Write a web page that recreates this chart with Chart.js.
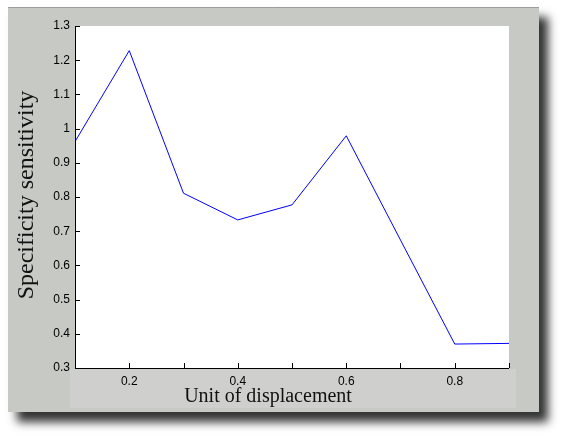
<!DOCTYPE html>
<html>
<head>
<meta charset="utf-8">
<script src="https://cdn.jsdelivr.net/npm/chart.js@4"></script>
<style>
  html, body { margin: 0; padding: 0; background: #ffffff; }
  #wrap { width: 562px; height: 435px; position: relative; }
</style>
</head>
<body>
<div id="wrap"><canvas id="chart"></canvas></div>
<script>
// values
const displacement = [0.1, 0.2, 0.3, 0.4, 0.5, 0.6, 0.7, 0.8, 0.9];
const sensitivity = [0.962, 1.228, 0.811, 0.733, 0.777, 0.979, 0.674, 0.370, 0.372];
const xLabelTicks = [0.2, 0.4, 0.6, 0.8];
const xTitle = 'Unit of displacement';
const yTitle = 'Specificity sensitivity';

// panel, shadow, white plot area, inside ticks, titles
const matlabLook = {
    id: 'matlabLook',
    beforeDraw(chart) {
        let ctx = chart.ctx;
        let area = chart.chartArea;
        ctx.save();
        ctx.fillStyle = '#ffffff';
        ctx.fillRect(0, 0, chart.width, chart.height);

        // gray panel with drop shadow
        ctx.shadowColor = 'rgba(0,0,0,0.8)';
        ctx.shadowBlur = 9;
        ctx.shadowOffsetX = 9;
        ctx.shadowOffsetY = 10;
        ctx.fillStyle = '#c6c9c4';
        ctx.fillRect(8, 7, 531, 405);
        ctx.shadowColor = 'transparent';
        ctx.strokeStyle = '#9a9d98';
        ctx.lineWidth = 1;
        ctx.beginPath();
        ctx.moveTo(8, 7.5);
        ctx.lineTo(539, 7.5);
        ctx.stroke();

        // lighter strip behind the x labels
        ctx.fillStyle = '#cfd0ce';
        ctx.fillRect(70, 369, 446, 39);

        // plot area
        ctx.fillStyle = '#ffffff';
        ctx.fillRect(area.left, area.top, area.right - area.left, area.bottom - area.top);
        ctx.restore();
    },
    afterDatasetsDraw(chart) {
        let ctx = chart.ctx;
        let area = chart.chartArea;
        let xs = chart.scales.x;
        let ys = chart.scales.y;
        ctx.save();
        ctx.strokeStyle = '#000000';
        ctx.lineWidth = 1;
        ctx.beginPath();
        // axes
        ctx.moveTo(area.left + 0.5, area.top);
        ctx.lineTo(area.left + 0.5, area.bottom + 0.5);
        ctx.lineTo(area.right, area.bottom + 0.5);
        // inside ticks
        displacement.forEach(v => {
            let px = Math.round(xs.getPixelForValue(v)) + 0.5;
            ctx.moveTo(px, area.bottom);
            ctx.lineTo(px, area.bottom - 5);
        });
        ys.ticks.forEach(t => {
            let py = Math.round(ys.getPixelForValue(t.value)) + 0.5;
            ctx.moveTo(area.left, py);
            ctx.lineTo(area.left + 5, py);
        });
        ctx.stroke();

        // axis titles
        ctx.fillStyle = '#111111';
        ctx.font = '20px "Liberation Serif", "DejaVu Serif", serif';
        ctx.textAlign = 'center';
        ctx.textBaseline = 'middle';
        ctx.fillText(xTitle, 268, 397);
        ctx.translate(27, 195);
        ctx.rotate(-Math.PI / 2);
        ctx.font = '24px "Liberation Serif", "DejaVu Serif", serif';
        ctx.fillText(yTitle, 0, 0);
        ctx.restore();
    }
};

let points = displacement.map((x, i) => ({ x: x, y: sensitivity[i] }));

new Chart(document.getElementById('chart'), {
    type: 'line',
    data: {
        datasets: [{
            label: yTitle,
            data: points,
            borderColor: '#0000ff',
            borderWidth: 1,
            pointRadius: 0,
            tension: 0,
            fill: false
        }]
    },
    options: {
        responsive: true,
        maintainAspectRatio: false,
        animation: false,
        devicePixelRatio: 1,
        layout: { padding: { left: 0, top: 26, right: 53, bottom: 0 } },
        plugins: {
            legend: { display: false },
            tooltip: { enabled: false }
        },
        scales: {
            x: {
                type: 'linear',
                min: 0.1,
                max: 0.9,
                afterFit: s => { s.height = 67; },
                afterBuildTicks: s => { s.ticks = displacement.map(v => ({ value: v })); },
                grid: { display: false, drawTicks: false },
                border: { display: false },
                ticks: {
                    padding: 6,
                    color: '#000000',
                    font: { family: '"Liberation Sans", Arial, sans-serif', size: 12 },
                    autoSkip: false,
                    maxRotation: 0,
                    callback: v => xLabelTicks.some(t => Math.abs(t - v) < 1e-6) ? v.toFixed(1) : ''
                }
            },
            y: {
                min: 0.3,
                max: 1.3,
                afterFit: s => { s.width = 75; },
                grid: { display: false, drawTicks: false },
                border: { display: false },
                ticks: {
                    stepSize: 0.1,
                    padding: 5,
                    color: '#000000',
                    font: { family: '"Liberation Sans", Arial, sans-serif', size: 12 },
                    callback: v => {
                        let r = Math.round(v * 10) / 10;
                        return r === 1 ? '1' : r.toFixed(1);
                    }
                }
            }
        }
    },
    plugins: [matlabLook]
});
</script>
</body>
</html>
